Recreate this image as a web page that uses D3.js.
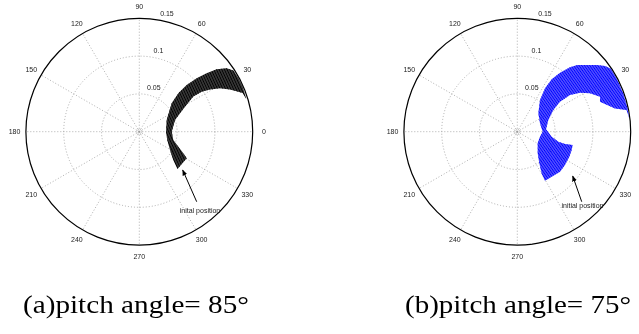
<!DOCTYPE html>
<html>
<head>
<meta charset="utf-8">
<script src="https://cdn.jsdelivr.net/npm/d3@7/dist/d3.min.js"></script>
<style>
  body { margin: 0; background: #fff; }
  svg { display: block; }
  .lbl { will-change: transform; }
</style>
</head>
<body>
<svg id="chart" width="639" height="334"></svg>
<script>
// polar grid
const angleTicks = [0, 30, 60, 90, 120, 150, 180, 210, 240, 270, 300, 330];
const ringValues = [0.05, 0.1, 0.15];
const rMax = 0.15;

// (a) pitch angle 85 deg: outline of the trajectory band, angle (deg) / radius
const bandAngleA = [-44.3, -39.8, -30.8, -16.5, 0, 23.1, 41.2, 44.5, 44.6, 42.9, 40.9, 38.9, 36.0, 33, 28, 23, 17,
  20.5, 22.0, 25.0, 28.3, 30.9, 32.7, 33.0, 28.7, 25.3, 18.1, 0, -13.7, -21.0, -26.1, -29.3];
const bandRadiusA = [0.0706, 0.0585, 0.0473, 0.0386, 0.0353, 0.0394, 0.0569, 0.0724, 0.0880, 0.1037, 0.1179, 0.1315, 0.1428, 0.1485, 0.149, 0.149, 0.148,
  0.146, 0.1412, 0.1324, 0.1212, 0.1090, 0.0980, 0.0852, 0.0689, 0.0610, 0.0497, 0.0429, 0.0463, 0.0553, 0.0648, 0.0719];

// (b) pitch angle 75 deg
const bandAngleB = [0, 20.2, 41.1, 54.4, 57.4, 56.7, 54.1, 50.7, 48.0, 43.9, 40.0, 36.8, 33.9, 28, 20, 12, 7,
  11.2, 13.4, 19.9, 22.95, 27.8, 31.9, 34.85, 35.1, 31.1, 20.7, 4.7,
  -8.3, -13.7, -14.5, -13.5, -18.6, -25.7, -34.9, -43.1, -52.6, -60.5, -59.7, -55.1, -46.7, -29.7, -12.4];
const bandRadiusB = [0.0336, 0.0320, 0.0369, 0.0516, 0.0681, 0.0829, 0.0964, 0.1100, 0.1187, 0.1273, 0.1371, 0.1449, 0.149, 0.149, 0.149, 0.149, 0.149,
  0.1474, 0.1329, 0.1163, 0.1188, 0.1087, 0.0977, 0.0849, 0.0690, 0.0556, 0.0439, 0.0381,
  0.0459, 0.0559, 0.0652, 0.0753, 0.0759, 0.0763, 0.0769, 0.0774, 0.0749, 0.0744, 0.0638, 0.0510, 0.0393, 0.0310, 0.0307];

// "initial position" arrows, cartesian data units: [tailX, tailY, tipX, tipY]
const arrowA = [0.0759, -0.0926, 0.0574, -0.0507];
const arrowB = [0.0852, -0.0926, 0.0733, -0.0586];
const noteTextA = 'inital position';
const noteTextB = 'initial position';
const notePosA = [0.0803, -0.1036];
const notePosB = [0.0862, -0.0976];

const captions = ['(a)pitch angle= 85°', '(b)pitch angle= 75°'];

const panels = [
  { cx: 139.3, cy: 131.7, angles: bandAngleA, radii: bandRadiusA, color: '#000', baseOpacity: 0.72,
    hatchW: 1.2, hatchStep: 2.4, hatchRot: -25, labels: angleTicks,
    arrow: arrowA, note: noteTextA, notePos: notePosA, caption: captions[0], capX: 23 },
  { cx: 517.3, cy: 131.7, angles: bandAngleB, radii: bandRadiusB, color: '#0000ff', baseOpacity: 0.6,
    hatchW: 1.1, hatchStep: 2.2, hatchRot: -35, labels: angleTicks.filter(a => a !== 0),
    arrow: arrowB, note: noteTextB, notePos: notePosB, caption: captions[1], capX: 405 }
];

const R = 113.4;
const svg = d3.select('#chart');
const defs = svg.append('defs');

defs.append('marker')
  .attr('id', 'arrowhead')
  .attr('viewBox', '0 0 10 10')
  .attr('refX', 9).attr('refY', 5)
  .attr('markerWidth', 6).attr('markerHeight', 6)
  .attr('markerUnits', 'userSpaceOnUse')
  .attr('orient', 'auto')
  .append('path')
  .attr('d', 'M0,1 L10,5 L0,9 z')
  .attr('fill', '#000');

panels.forEach((p, i) => {
  const x = d3.scaleLinear().domain([-rMax, rMax]).range([p.cx - R, p.cx + R]);
  const y = d3.scaleLinear().domain([-rMax, rMax]).range([p.cy + R, p.cy - R]);
  const rad = d => d * Math.PI / 180;
  const px = (a, r) => x(r * Math.cos(rad(a)));
  const py = (a, r) => y(r * Math.sin(rad(a)));
  const rPix = d3.scaleLinear().domain([0, rMax]).range([0, R]);

  const g = svg.append('g');

  // spokes
  g.selectAll('line.spoke')
    .data(angleTicks)
    .enter().append('line')
    .attr('x1', p.cx).attr('y1', p.cy)
    .attr('x2', a => px(a, rMax)).attr('y2', a => py(a, rMax))
    .attr('stroke', '#9a9a9a')
    .attr('stroke-width', 0.8)
    .attr('stroke-dasharray', '1,2');

  // inner rings
  g.selectAll('circle.ring')
    .data(ringValues.slice(0, -1))
    .enter().append('circle')
    .attr('cx', p.cx).attr('cy', p.cy)
    .attr('r', v => rPix(v))
    .attr('fill', 'none')
    .attr('stroke', '#9a9a9a')
    .attr('stroke-width', 0.8)
    .attr('stroke-dasharray', '1,2');

  g.append('circle')
    .attr('cx', p.cx).attr('cy', p.cy).attr('r', 2.5)
    .attr('fill', 'none').attr('stroke', '#9a9a9a').attr('stroke-width', 0.8)
    .attr('stroke-dasharray', '1,1');

  // outer circle
  g.append('circle')
    .attr('cx', p.cx).attr('cy', p.cy)
    .attr('r', rPix(rMax))
    .attr('fill', 'none')
    .attr('stroke', '#000')
    .attr('stroke-width', 1.2);

  // hatch pattern
  const pat = defs.append('pattern')
    .attr('id', 'hatch' + i)
    .attr('patternUnits', 'userSpaceOnUse')
    .attr('width', p.hatchStep).attr('height', 10)
    .attr('patternTransform', `rotate(${p.hatchRot})`);
  pat.append('line')
    .attr('x1', p.hatchStep / 2).attr('y1', 0)
    .attr('x2', p.hatchStep / 2).attr('y2', 10)
    .attr('stroke', p.color)
    .attr('stroke-width', p.hatchW);

  const band = p.angles.map((a, k) => [px(a, p.radii[k]), py(a, p.radii[k])]);
  const bandPath = d3.line().curve(d3.curveLinearClosed)(band);
  g.append('path')
    .attr('d', bandPath)
    .attr('fill', p.color)
    .attr('fill-opacity', p.baseOpacity)
    .attr('stroke', 'none');
  g.append('path')
    .attr('d', bandPath)
    .attr('fill', `url(#hatch${i})`)
    .attr('stroke', 'none');

  const lbl = g.append('g').attr('class', 'lbl')
    .attr('font-family', 'Liberation Sans, Arial, sans-serif')
    .attr('font-size', 7)
    .attr('fill', '#222');

  // angle labels
  lbl.selectAll('text.ang')
    .data(p.labels)
    .enter().append('text')
    .attr('x', a => px(a, rMax * 1.1))
    .attr('y', a => py(a, rMax * 1.1))
    .attr('text-anchor', 'middle')
    .attr('dominant-baseline', 'central')
    .text(a => a);

  // ring labels
  lbl.selectAll('text.ring')
    .data(ringValues)
    .enter().append('text')
    .attr('x', v => px(80, v + 0.0087))
    .attr('y', v => py(80, v + 0.0087))
    .attr('text-anchor', 'start')
    .attr('dominant-baseline', 'central')
    .text(v => v);

  // annotation
  g.append('line')
    .attr('x1', x(p.arrow[0])).attr('y1', y(p.arrow[1]))
    .attr('x2', x(p.arrow[2])).attr('y2', y(p.arrow[3]))
    .attr('stroke', '#000')
    .attr('stroke-width', 1)
    .attr('marker-end', 'url(#arrowhead)');

  lbl.append('text')
    .attr('x', x(p.notePos[0])).attr('y', y(p.notePos[1]))
    .attr('text-anchor', 'middle')
    .attr('dominant-baseline', 'central')
    .text(p.note);

  // caption
  svg.append('text')
    .attr('x', p.capX).attr('y', 313)
    .attr('font-family', 'Liberation Serif, DejaVu Serif, serif')
    .attr('font-size', 26)
    .attr('textLength', 226)
    .attr('lengthAdjust', 'spacingAndGlyphs')
    .attr('fill', '#000')
    .text(p.caption);
});
</script>
</body>
</html>
